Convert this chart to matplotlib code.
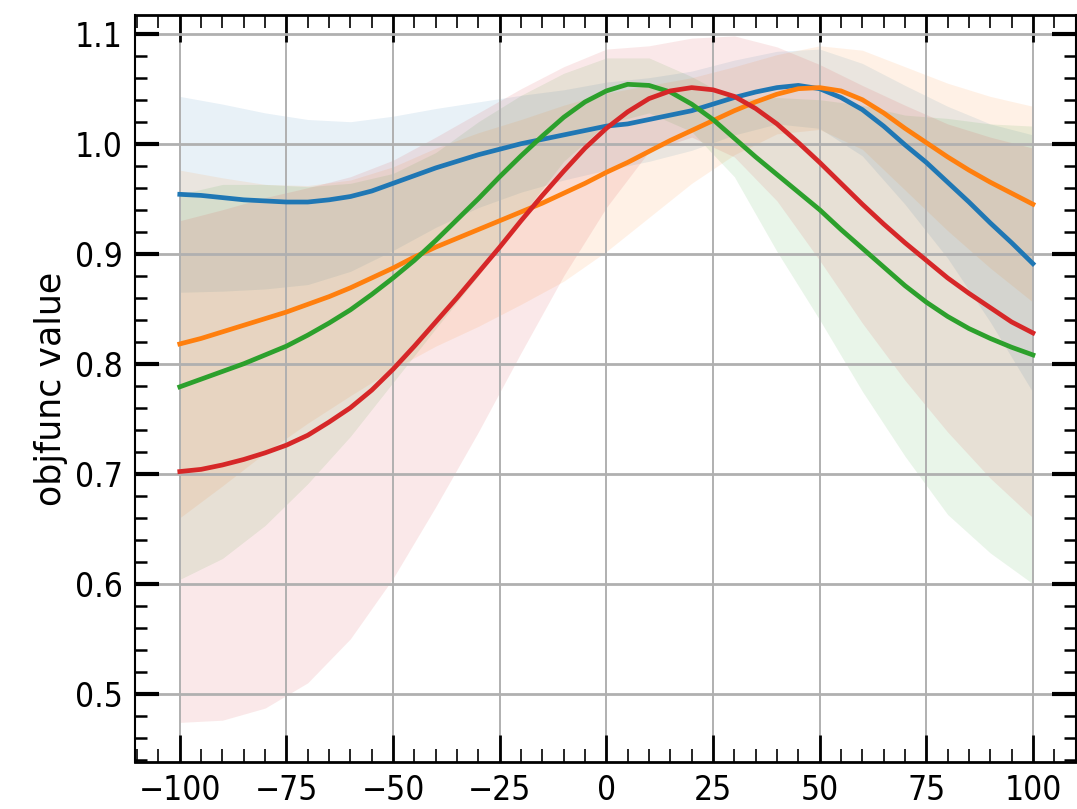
import numpy as np
import matplotlib
matplotlib.use("Agg")
import matplotlib.pyplot as plt
from matplotlib.ticker import MultipleLocator

# parameter sweep, GP mean per run (step 5)
x = np.arange(-100, 101, 5)

run_a = [0.954, 0.953, 0.951, 0.949, 0.948, 0.947, 0.947, 0.949, 0.952, 0.957,
         0.964, 0.971, 0.978, 0.984, 0.990, 0.995, 1.000, 1.004, 1.008, 1.012,
         1.016, 1.018, 1.022, 1.026, 1.030, 1.036, 1.042, 1.047, 1.051, 1.053,
         1.050, 1.042, 1.031, 1.016, 0.999, 0.983, 0.965, 0.947, 0.928, 0.910,
         0.891]
run_b = [0.818, 0.823, 0.829, 0.835, 0.841, 0.847, 0.854, 0.861, 0.869, 0.878,
         0.887, 0.897, 0.906, 0.914, 0.922, 0.930, 0.938, 0.946, 0.955, 0.964,
         0.974, 0.983, 0.993, 1.003, 1.012, 1.021, 1.030, 1.038, 1.045, 1.050,
         1.051, 1.048, 1.040, 1.028, 1.014, 1.001, 0.988, 0.976, 0.965, 0.955,
         0.945]
run_c = [0.779, 0.786, 0.793, 0.800, 0.808, 0.816, 0.826, 0.837, 0.849, 0.863,
         0.878, 0.894, 0.912, 0.931, 0.950, 0.970, 0.989, 1.007, 1.024, 1.038,
         1.048, 1.054, 1.053, 1.047, 1.036, 1.022, 1.005, 0.988, 0.972, 0.956,
         0.940, 0.922, 0.905, 0.888, 0.871, 0.856, 0.843, 0.832, 0.823, 0.815,
         0.808]
run_d = [0.702, 0.704, 0.708, 0.713, 0.719, 0.726, 0.735, 0.747, 0.760, 0.776,
         0.795, 0.816, 0.838, 0.860, 0.883, 0.906, 0.930, 0.953, 0.975, 0.996,
         1.014, 1.029, 1.041, 1.048, 1.051, 1.049, 1.043, 1.032, 1.018, 1.001,
         0.983, 0.964, 0.945, 0.927, 0.910, 0.894, 0.878, 0.864, 0.851, 0.838,
         0.828]

# GP standard deviation per run (step 10)
x_std = np.arange(-100, 101, 10)
std_a = [0.089, 0.085, 0.080, 0.075, 0.068, 0.061, 0.054, 0.048, 0.044, 0.041,
         0.040, 0.038, 0.036, 0.034, 0.033, 0.036, 0.042, 0.054, 0.069, 0.090,
         0.117]
std_b = [0.158, 0.140, 0.122, 0.108, 0.098, 0.092, 0.090, 0.088, 0.084, 0.080,
         0.072, 0.060, 0.048, 0.040, 0.036, 0.038, 0.045, 0.056, 0.067, 0.078,
         0.089]
std_c = [0.175, 0.170, 0.155, 0.135, 0.115, 0.095, 0.080, 0.070, 0.055, 0.040,
         0.030, 0.025, 0.025, 0.035, 0.070, 0.100, 0.130, 0.155, 0.180, 0.195,
         0.208]
std_d = [0.228, 0.232, 0.232, 0.225, 0.210, 0.190, 0.168, 0.145, 0.120, 0.095,
         0.072, 0.048, 0.045, 0.055, 0.070, 0.089, 0.108, 0.125, 0.140, 0.155,
         0.168]

runs = [(run_a, std_a, "C0"), (run_b, std_b, "C1"),
        (run_c, std_c, "C2"), (run_d, std_d, "C3")]

plt.rcParams["font.family"] = ["DejaVu Sans Condensed", "DejaVu Sans"]
plt.rcParams["font.stretch"] = "condensed"

fig = plt.figure(figsize=(10.77, 8.09), dpi=100)
ax = fig.add_axes([135 / 1077, 1 - 762 / 809, 941 / 1077, 747 / 809])

for mean, std, color in runs:
    mean = np.asarray(mean)
    std = np.asarray(std)
    m = mean[::2]
    ax.fill_between(x_std, m - std, m + std, color=color, alpha=0.1, lw=0)
for mean, std, color in runs:
    ax.plot(x, mean, color=color, lw=3.4)

ax.set_xlim(-110.5, 110.1)
ax.set_ylim(0.438, 1.117)
ax.xaxis.set_major_locator(MultipleLocator(25))
ax.xaxis.set_minor_locator(MultipleLocator(5))
ax.yaxis.set_major_locator(MultipleLocator(0.1))
ax.yaxis.set_minor_locator(MultipleLocator(0.02))

ax.grid(True, which="major", axis="x", color="#b0b0b0", lw=1.4)
ax.grid(True, which="major", axis="y", color="#b0b0b0", lw=2.0)

ax.tick_params(which="both", direction="in", top=True, right=True)
ax.tick_params(axis="x", which="major", length=19.5, width=2.0, pad=9,
               labelsize=24)
ax.tick_params(axis="x", which="minor", length=9.5, width=1.2)
ax.tick_params(axis="y", which="major", length=17, width=3.0, pad=9,
               labelsize=24)
ax.tick_params(axis="y", which="minor", length=8.5, width=1.8)
for side in ["top", "bottom"]:
    ax.spines[side].set_linewidth(2.0)
for side in ["left", "right"]:
    ax.spines[side].set_linewidth(1.5)

ax.set_ylabel("objfunc value", fontsize=25, labelpad=5,
              family="DejaVu Sans", stretch="normal")

fig.savefig("out.png", dpi=100)
